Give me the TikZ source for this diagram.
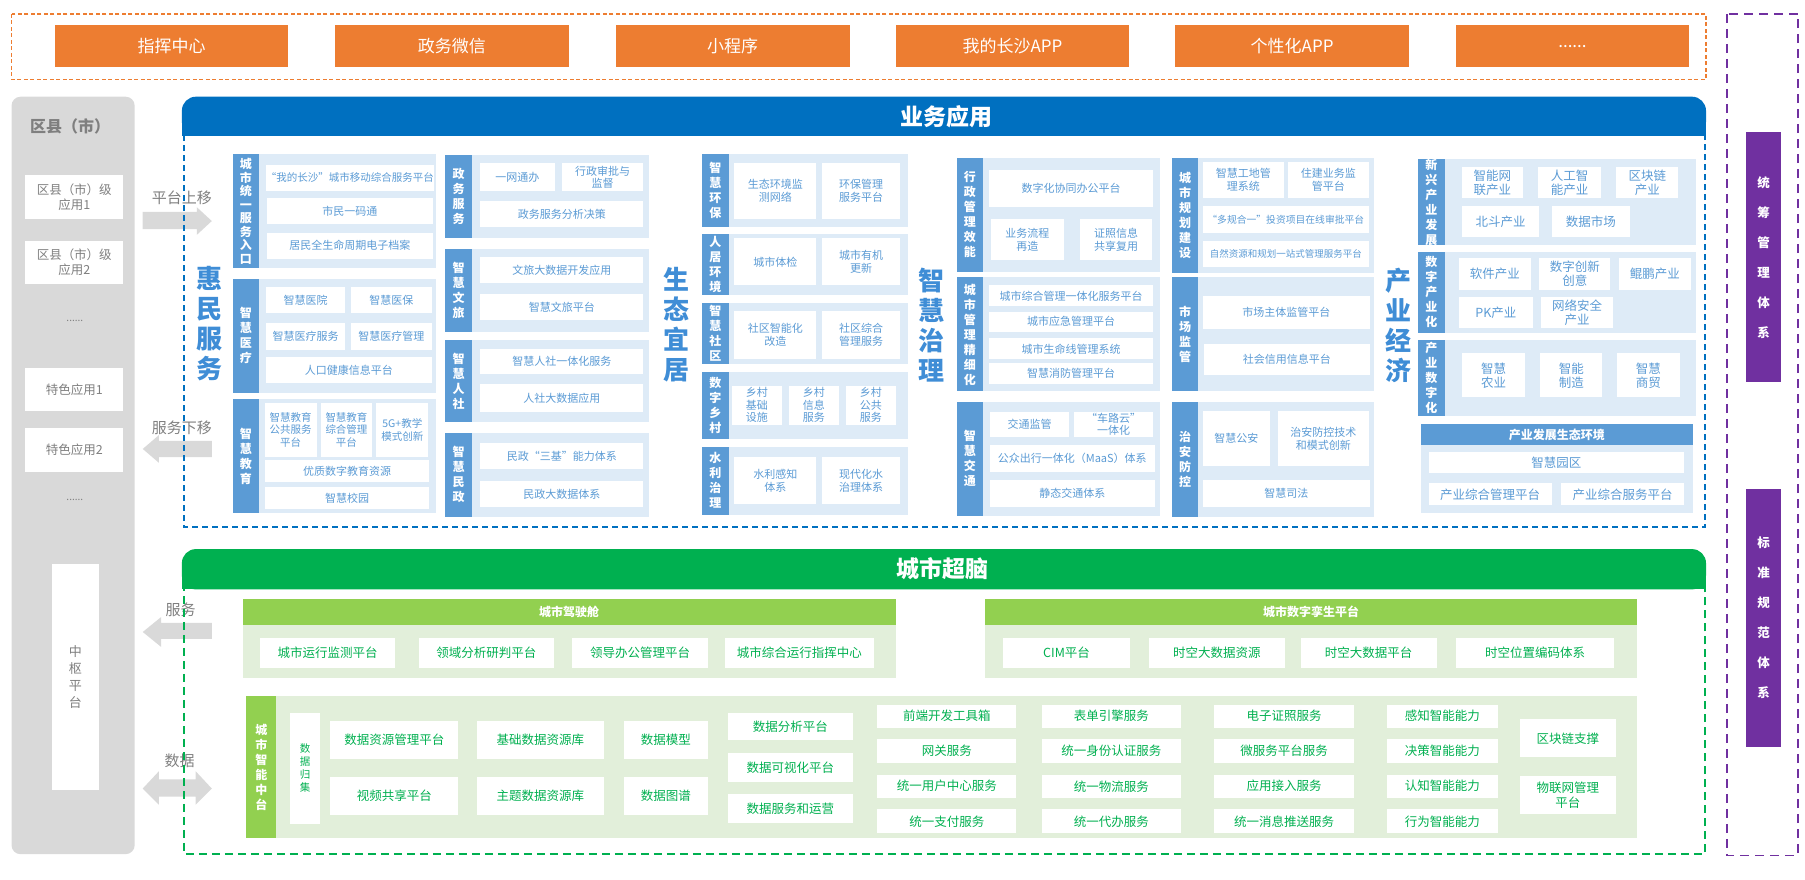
\documentclass[tikz,border=0pt]{standalone}
\usepackage{fontspec}
\setmainfont{Noto Sans CJK SC}
\usepackage{tikz}
\definecolor{orangebox}{HTML}{ED7D31}
\definecolor{bizblue}{HTML}{0070C0}
\definecolor{groupbg}{HTML}{DEEBF7}
\definecolor{stripblue}{HTML}{5B9BD5}
\definecolor{cellblue}{HTML}{5B9BD5}
\definecolor{bigblue}{HTML}{3F8DD6}
\definecolor{braingreen}{HTML}{00B050}
\definecolor{lightgreen}{HTML}{92D050}
\definecolor{greenbg}{HTML}{E2EFDA}
\definecolor{sysviolet}{HTML}{7030A0}
\definecolor{colgray}{HTML}{D9D9D9}
\definecolor{textgray}{HTML}{7F7F7F}

% box given by its corners: style, x1, y1, x2, y2, name
\newcommand{\cellnode}[6]{\node[#1, minimum width={(#4-#2)*1.1512pt}, minimum height={(#5-#3)*1.1512pt}] (#6) at ({(#2+#4)/2},{(#3+#5)/2})}
% light blue group with its label strip
\newcommand{\groupblock}[7][]{%
  \fill[groupbg] (#2,#3) rectangle (#4,#5);
  \node[sidestrip, #1, anchor=north west, minimum width={23*1.1512pt}, minimum height={(#5-#3)*1.1512pt}] (#6) at (#2,#3) {#7};}

\begin{document}
\begin{tikzpicture}[x=1.1512pt, y=-1.1512pt,
  topbox/.style={fill=orangebox, text=white, font=\fontsize{17}{20}\selectfont, inner sep=0pt, outer sep=0pt},
  leftbox/.style={fill=white, text=textgray, font=\fontsize{12.5}{15}\selectfont, align=center, inner sep=0pt, outer sep=0pt},
  cellb/.style={fill=white, text=cellblue, font=\fontsize{11}{12.8}\selectfont, align=center, inner sep=0pt, outer sep=0pt},
  cellw/.style={cellb, font=\fontsize{12.5}{14}\selectfont},
  cellg/.style={fill=white, text=braingreen, font=\fontsize{12.5}{15}\selectfont, align=center, inner sep=0pt, outer sep=0pt},
  sidestrip/.style={fill=stripblue, text=white, font=\bfseries\fontsize{12}{15}\selectfont, align=center, inner sep=0pt, outer sep=0pt},
  gstrip/.style={sidestrip, fill=lightgreen},
  subhead/.style={fill=lightgreen, text=white, font=\bfseries\fontsize{12}{14}\selectfont, inner sep=0pt, outer sep=0pt},
  bigword/.style={text=bigblue, font=\bfseries\fontsize{26}{30}\selectfont, align=center},
  headtext/.style={text=white, font=\bfseries\fontsize{23}{26}\selectfont},
  arrowtext/.style={text=textgray, font=\fontsize{15}{18}\selectfont},
  sysbar/.style={fill=sysviolet, text=white, font=\bfseries\fontsize{12.5}{30}\selectfont, align=center, inner sep=0pt, outer sep=0pt}]
\useasboundingbox (0,0) rectangle (1568,764);

% access channels
\draw[orangebox, line width=1.6pt, dash pattern=on 4pt off 2.5pt] (10,12) rectangle (1482,69);
\cellnode{topbox}{48}{22}{250}{58}{cmdCenter}{指挥中心};
\cellnode{topbox}{291}{22}{494}{58}{govWechat}{政务微信};
\cellnode{topbox}{535}{22}{738}{58}{miniProg}{小程序};
\cellnode{topbox}{778}{22}{981}{58}{myCsApp}{我的长沙APP};
\cellnode{topbox}{1021}{22}{1224}{58}{customApp}{个性化APP};
\cellnode{topbox}{1265}{22}{1467}{58}{moreApp}{......};

% right frame
\draw[sysviolet, line width=1.6pt, dash pattern=on 9pt off 6pt] (1500,12) rectangle (1562,743);
\cellnode{sysbar}{1517}{115}{1547}{332}{mgmtSys}{统\\筹\\管\\理\\体\\系};
\cellnode{sysbar}{1517}{425}{1547}{649}{stdSys}{标\\准\\规\\范\\体\\系};

% county column
\fill[colgray, rounded corners=9pt] (10,84) rectangle (117,742);
\node[text=textgray, font=\bfseries\fontsize{16}{18}\selectfont] (qxTitle) at (61,110) {区县（市）};
\cellnode{leftbox}{22}{152}{107}{190}{qxApp1}{区县（市）级\\应用1};
\cellnode{leftbox}{22}{209}{107}{247}{qxApp2}{区县（市）级\\应用2};
\node[text=textgray, font=\fontsize{10}{12}\selectfont] (qxDots1) at (65,279) {......};
\cellnode{leftbox}{22}{320}{107}{357}{featApp1}{特色应用1};
\cellnode{leftbox}{22}{372}{107}{410}{featApp2}{特色应用2};
\node[text=textgray, font=\fontsize{10}{12}\selectfont] (qxDots2) at (65,434) {......};
\cellnode{leftbox, font=\fontsize{13}{17}\selectfont}{45}{490}{86}{686}{hubBox}{中\\枢\\平\\台};

% moving arrows
\fill[colgray] (124,184) -- (171,184) -- (171,180) -- (184,192) -- (171,204) -- (171,199) -- (124,199) -- cycle;
\fill[colgray] (184,383) -- (138,383) -- (138,378) -- (124,390) -- (138,402) -- (138,397) -- (184,397) -- cycle;
\fill[colgray] (184,541) -- (140,541) -- (140,536) -- (124,549) -- (140,562) -- (140,555) -- (184,555) -- cycle;
\fill[colgray] (124,685) -- (138,670) -- (138,677) -- (170,677) -- (170,670) -- (184,685) -- (170,699) -- (170,692) -- (138,692) -- (138,699) -- cycle;
\node[arrowtext] (upText) at (158,172) {平台上移};
\node[arrowtext] (downText) at (158,372) {服务下移};
\node[arrowtext] (svcText) at (157,530) {服务};
\node[arrowtext] (dataText) at (156,661) {数据};

% business applications
\draw[bizblue, line width=1.5pt, dash pattern=on 6pt off 4pt] (160,100) rectangle (1481,458);
\fill[bizblue, rounded corners=14pt] (158,84) rectangle (1482,118);
\fill[bizblue] (158,100) rectangle (1482,118);
\node[headtext] (bizTitle) at (822,101) {业务应用};

% 惠民服务
\node[bigword] (hmWord) at (182,281) {惠\\民\\服\\务};
\groupblock[font=\bfseries\fontsize{12}{13.5}\selectfont]{202}{134}{379}{233}{gEntry}{城\\市\\统\\一\\服\\务\\入\\口};
\cellnode{cellb, font=\fontsize{10.5}{12}\selectfont}{232}{143}{376}{166}{entryA}{“我的长沙”城市移动综合服务平台};
\cellnode{cellb}{232}{172}{376}{195}{entryB}{市民一码通};
\cellnode{cellb}{232}{202}{376}{225}{entryC}{居民全生命周期电子档案};
\groupblock{202}{242}{379}{341}{gMed}{智\\慧\\医\\疗};
\cellnode{cellb}{231}{249}{300}{272}{medA}{智慧医院};
\cellnode{cellb}{305}{249}{375}{272}{medB}{智慧医保};
\cellnode{cellb}{231}{281}{300}{304}{medC}{智慧医疗服务};
\cellnode{cellb}{305}{281}{375}{304}{medD}{智慧医疗管理};
\cellnode{cellb}{231}{310}{375}{333}{medE}{人口健康信息平台};
\groupblock{202}{347}{379}{446}{gEdu}{智\\慧\\教\\育};
\cellnode{cellb, font=\fontsize{10.5}{12.5}\selectfont}{230}{350}{275}{397}{eduA}{智慧教育\\公共服务\\平台};
\cellnode{cellb, font=\fontsize{10.5}{12.5}\selectfont}{279}{350}{323}{397}{eduB}{智慧教育\\综合管理\\平台};
\cellnode{cellb, font=\fontsize{10.5}{12.5}\selectfont}{327}{350}{372}{397}{eduC}{5G+教学\\模式创新};
\cellnode{cellb}{230}{400}{373}{419}{eduD}{优质数字教育资源};
\cellnode{cellb}{230}{423}{373}{442}{eduE}{智慧校园};
\groupblock{387}{135}{564}{207}{gGov}{政\\务\\服\\务};
\cellnode{cellb}{417}{142}{482}{166}{govA}{一网通办};
\cellnode{cellb, font=\fontsize{11}{12}\selectfont}{488}{142}{559}{166}{govB}{行政审批与\\监督};
\cellnode{cellb}{417}{175}{559}{197}{govC}{政务服务分析决策};
\groupblock{387}{216}{564}{288}{gTour}{智\\慧\\文\\旅};
\cellnode{cellb}{417}{223}{559}{246}{tourA}{文旅大数据开发应用};
\cellnode{cellb}{417}{255}{559}{278}{tourB}{智慧文旅平台};
\groupblock{387}{295}{564}{367}{gHr}{智\\慧\\人\\社};
\cellnode{cellb}{417}{303}{559}{325}{hrA}{智慧人社一体化服务};
\cellnode{cellb}{417}{334}{559}{358}{hrB}{人社大数据应用};
\groupblock{387}{376}{564}{449}{gCivil}{智\\慧\\民\\政};
\cellnode{cellb}{417}{385}{559}{407}{civA}{民政“三基”能力体系};
\cellnode{cellb}{417}{418}{559}{440}{civB}{民政大数据体系};

% 生态宜居
\node[bigword] (stWord) at (588,282) {生\\态\\宜\\居};
\groupblock{610}{134}{789}{197}{gEco}{智\\慧\\环\\保};
\cellnode{cellb}{638}{142}{709}{190}{ecoA}{生态环境监\\测网络};
\cellnode{cellb}{714}{142}{782}{190}{ecoB}{环保管理\\服务平台};
\groupblock{610}{203}{789}{256}{gLive}{人\\居\\环\\境};
\cellnode{cellb}{638}{207}{709}{248}{liveA}{城市体检};
\cellnode{cellb}{714}{207}{782}{248}{liveB}{城市有机\\更新};
\groupblock{610}{263}{789}{316}{gComm}{智\\慧\\社\\区};
\cellnode{cellb}{638}{270}{709}{312}{commA}{社区智能化\\改造};
\cellnode{cellb}{714}{270}{782}{312}{commB}{社区综合\\管理服务};
\groupblock{610}{323}{789}{381}{gRural}{数\\字\\乡\\村};
\cellnode{cellb, font=\fontsize{11}{12.5}\selectfont}{636}{335}{679}{369}{ruralA}{乡村\\基础\\设施};
\cellnode{cellb, font=\fontsize{11}{12.5}\selectfont}{685}{335}{729}{369}{ruralB}{乡村\\信息\\服务};
\cellnode{cellb, font=\fontsize{11}{12.5}\selectfont}{735}{335}{778}{369}{ruralC}{乡村\\公共\\服务};
\groupblock{610}{388}{789}{447}{gWater}{水\\利\\治\\理};
\cellnode{cellb}{638}{397}{709}{438}{waterA}{水利感知\\体系};
\cellnode{cellb}{714}{397}{782}{438}{waterB}{现代化水\\治理体系};

% 智慧治理
\node[bigword] (zlWord) at (809,282) {智\\慧\\治\\理};
\groupblock{831}{137}{1008}{236}{gAdmin}{行\\政\\管\\理\\效\\能};
\cellnode{cellb}{859}{148}{1002}{180}{adminA}{数字化协同办公平台};
\cellnode{cellb}{861}{190}{924}{226}{adminB}{业务流程\\再造};
\cellnode{cellb}{938}{190}{1001}{226}{adminC}{证照信息\\共享复用};
\groupblock{831}{241}{1008}{340}{gMgmt}{城\\市\\管\\理\\精\\细\\化};
\cellnode{cellb}{859}{248}{1002}{266}{mgmtA}{城市综合管理一体化服务平台};
\cellnode{cellb}{859}{271}{1002}{288}{mgmtB}{城市应急管理平台};
\cellnode{cellb}{859}{294}{1002}{312}{mgmtC}{城市生命线管理系统};
\cellnode{cellb}{859}{315}{1002}{334}{mgmtD}{智慧消防管理平台};
\groupblock{831}{349}{1008}{448}{gTraf}{智\\慧\\交\\通};
\cellnode{cellb}{860}{358}{929}{380}{trafA}{交通监管};
\cellnode{cellb, font=\fontsize{11}{12}\selectfont}{933}{358}{1002}{380}{trafB}{“车路云”\\一体化};
\cellnode{cellb}{860}{387}{1003}{410}{trafC}{公众出行一体化（MaaS）体系};
\cellnode{cellb}{860}{417}{1003}{440}{trafD}{静态交通体系};
\groupblock{1018}{137}{1194}{237}{gPlan}{城\\市\\规\\划\\建\\设};
\cellnode{cellb}{1045}{141}{1115}{172}{planA}{智慧工地管\\理系统};
\cellnode{cellb}{1119}{141}{1189}{172}{planB}{住建业务监\\管平台};
\cellnode{cellb, font=\fontsize{9.8}{12}\selectfont}{1045}{179}{1189}{202}{planC}{“多规合一”投资项目在线审批平台};
\cellnode{cellb, font=\fontsize{9.5}{12}\selectfont}{1045}{209}{1189}{232}{planD}{自然资源和规划一站式管理服务平台};
\groupblock{1018}{241}{1194}{340}{gMkt}{市\\场\\监\\管};
\cellnode{cellb}{1045}{257}{1190}{286}{mktA}{市场主体监管平台};
\cellnode{cellb}{1046}{299}{1190}{326}{mktB}{社会信用信息平台};
\groupblock{1018}{349}{1194}{449}{gSec}{治\\安\\防\\控};
\cellnode{cellb}{1045}{357}{1103}{405}{secA}{智慧公安};
\cellnode{cellb}{1110}{357}{1189}{405}{secB}{治安防控技术\\和模式创新};
\cellnode{cellb}{1045}{417}{1190}{440}{secC}{智慧司法};

% 产业经济
\node[bigword] (cyWord) at (1215,283) {产\\业\\经\\济};
\groupblock{1232}{138}{1473}{213}{gNew}{新\\兴\\产\\业\\发\\展};
\cellnode{cellw}{1270}{145}{1323}{172}{newA}{智能网\\联产业};
\cellnode{cellw}{1336}{145}{1391}{172}{newB}{人工智\\能产业};
\cellnode{cellw}{1404}{145}{1458}{172}{newC}{区块链\\产业};
\cellnode{cellw}{1270}{179}{1337}{206}{newD}{北斗产业};
\cellnode{cellw}{1348}{179}{1416}{206}{newE}{数据市场};
\groupblock{1232}{219}{1473}{289}{gDind}{数\\字\\产\\业\\化};
\cellnode{cellw}{1267}{224}{1330}{252}{dindA}{软件产业};
\cellnode{cellw}{1337}{224}{1399}{252}{dindB}{数字创新\\创意};
\cellnode{cellw}{1406}{224}{1469}{252}{dindC}{鲲鹏产业};
\cellnode{cellw}{1267}{258}{1332}{285}{dindD}{PK产业};
\cellnode{cellw}{1339}{258}{1401}{285}{dindE}{网络安全\\产业};
\groupblock{1232}{295}{1473}{361}{gIdig}{产\\业\\数\\字\\化};
\cellnode{cellw}{1270}{307}{1325}{345}{idigA}{智慧\\农业};
\cellnode{cellw}{1338}{307}{1392}{345}{idigB}{智能\\制造};
\cellnode{cellw}{1405}{307}{1459}{345}{idigC}{智慧\\商贸};
\fill[groupbg] (1234,387) rectangle (1471,446);
\cellnode{sidestrip, font=\bfseries\fontsize{12}{14}\selectfont}{1234}{368}{1471}{387}{ecoHead}{产业发展生态环境};
\cellnode{cellw}{1241}{393}{1463}{411}{parkA}{智慧园区};
\cellnode{cellw}{1241}{420}{1348}{439}{parkB}{产业综合管理平台};
\cellnode{cellw}{1356}{420}{1463}{439}{parkC}{产业综合服务平台};

% city brain
\draw[braingreen, line width=1.5pt, dash pattern=on 8pt off 5pt] (160,495) rectangle (1481,742);
\fill[braingreen, rounded corners=14pt] (158,477) rectangle (1482,512);
\fill[braingreen] (158,495) rectangle (1482,512);
\node[headtext] (brainTitle) at (819,494) {城市超脑};

\fill[greenbg] (211,543) rectangle (778,589);
\cellnode{subhead}{211}{520}{778}{543}{cockpitHead}{城市驾驶舱};
\cellnode{cellg}{226}{554}{343}{580}{ckA}{城市运行监测平台};
\cellnode{cellg}{364}{554}{481}{580}{ckB}{领域分析研判平台};
\cellnode{cellg}{497}{554}{615}{580}{ckC}{领导办公管理平台};
\cellnode{cellg}{630}{554}{759}{580}{ckD}{城市综合运行指挥中心};
\fill[greenbg] (856,543) rectangle (1422,589);
\cellnode{subhead}{856}{520}{1422}{543}{twinHead}{城市数字孪生平台};
\cellnode{cellg}{871}{554}{982}{580}{twA}{CIM平台};
\cellnode{cellg}{998}{554}{1116}{580}{twB}{时空大数据资源};
\cellnode{cellg}{1130}{554}{1248}{580}{twC}{时空大数据平台};
\cellnode{cellg}{1265}{554}{1402}{580}{twD}{时空位置编码体系};

\fill[greenbg] (214,605) rectangle (1422,728);
\cellnode{gstrip}{214}{605}{240}{728}{aiStrip}{城\\市\\智\\能\\中\\台};
\cellnode{cellg, font=\fontsize{10.5}{13}\selectfont}{252}{619}{278}{716}{dataCollect}{数\\据\\归\\集};
\cellnode{cellg}{287}{626}{398}{659}{resMgmt}{数据资源管理平台};
\cellnode{cellg}{414}{626}{525}{659}{baseLib}{基础数据资源库};
\cellnode{cellg}{542}{626}{615}{659}{dataModel}{数据模型};
\cellnode{cellg}{287}{675}{398}{708}{videoShare}{视频共享平台};
\cellnode{cellg}{414}{675}{525}{708}{topicLib}{主题数据资源库};
\cellnode{cellg}{542}{675}{615}{708}{dataGraph}{数据图谱};
\cellnode{cellg}{632}{619}{741}{643}{anaPlat}{数据分析平台};
\cellnode{cellg}{632}{654}{741}{679}{visPlat}{数据可视化平台};
\cellnode{cellg}{632}{690}{741}{715}{opsPlat}{数据服务和运营};
\cellnode{cellg}{762}{612}{883}{632}{feKit}{前端开发工具箱};
\cellnode{cellg}{762}{642}{883}{663}{gateway}{网关服务};
\cellnode{cellg}{762}{673}{883}{693}{userCenter}{统一用户中心服务};
\cellnode{cellg}{762}{703}{883}{724}{payment}{统一支付服务};
\cellnode{cellg}{905}{612}{1026}{632}{formEngine}{表单引擎服务};
\cellnode{cellg}{905}{642}{1026}{663}{identity}{统一身份认证服务};
\cellnode{cellg}{905}{673}{1026}{693}{logistics}{统一物流服务};
\cellnode{cellg}{905}{703}{1026}{724}{agency}{统一代办服务};
\cellnode{cellg}{1055}{612}{1176}{632}{license}{电子证照服务};
\cellnode{cellg}{1055}{642}{1176}{663}{microSvc}{微服务平台服务};
\cellnode{cellg}{1055}{673}{1176}{693}{appAccess}{应用接入服务};
\cellnode{cellg}{1055}{703}{1176}{724}{msgPush}{统一消息推送服务};
\cellnode{cellg}{1205}{612}{1301}{632}{aiSense}{感知智能能力};
\cellnode{cellg}{1205}{642}{1301}{663}{aiDecide}{决策智能能力};
\cellnode{cellg}{1205}{673}{1301}{693}{aiCognize}{认知智能能力};
\cellnode{cellg}{1205}{703}{1301}{724}{aiAct}{行为智能能力};
\cellnode{cellg}{1320}{625}{1404}{658}{chainSup}{区块链支撑};
\cellnode{cellg}{1320}{674}{1404}{707}{iotMgmt}{物联网管理\\平台};
\end{tikzpicture}
\end{document}
